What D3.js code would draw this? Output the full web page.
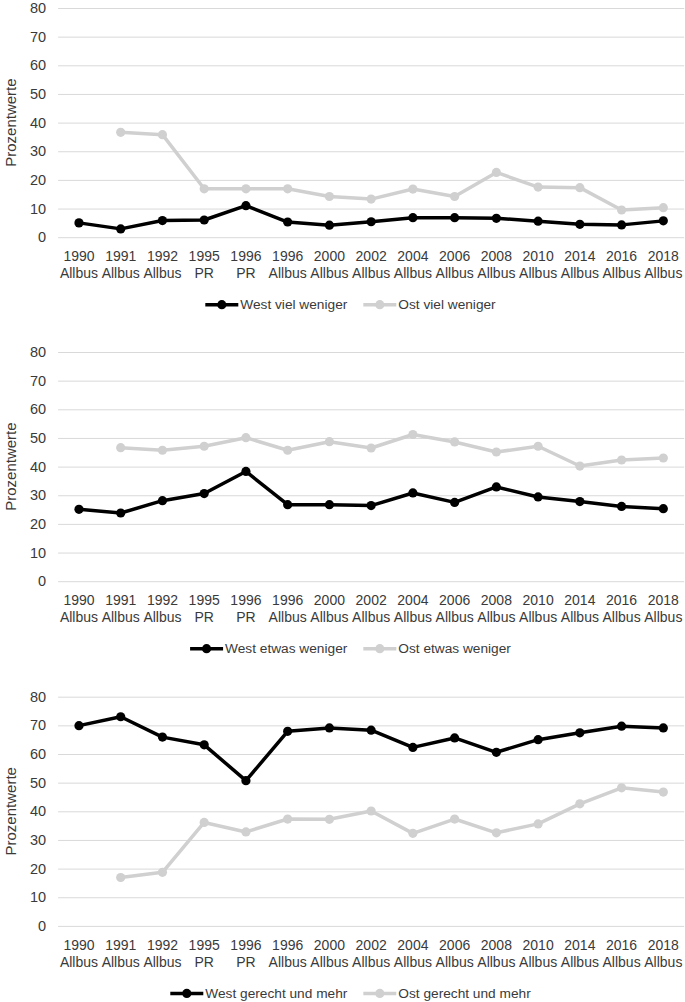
<!DOCTYPE html>
<html>
<head>
<meta charset="utf-8">
<script src="https://cdn.jsdelivr.net/npm/d3@7"></script>
<style>
  html, body { margin: 0; padding: 0; background: #fff; }
  svg { display: block; }
  text { font-family: "Liberation Sans", Arial, sans-serif; fill: #3a3a3a; }
</style>
</head>
<body>
<svg id="chart" width="685" height="1002"></svg>
<script>
// ---- data ----
const years   = ["1990","1991","1992","1995","1996","1996","2000","2002","2004","2006","2008","2010","2014","2016","2018"];
const sources = ["Allbus","Allbus","Allbus","PR","PR","Allbus","Allbus","Allbus","Allbus","Allbus","Allbus","Allbus","Allbus","Allbus","Allbus"];
const yTicks  = [0,10,20,30,40,50,60,70,80];

const westVielWeniger   = [5.0, 2.9, 5.8, 6.0, 11.0, 5.3, 4.2, 5.4, 6.8, 6.8, 6.6, 5.6, 4.5, 4.3, 5.7];
const ostVielWeniger    = [null, 36.6, 35.8, 16.9, 16.9, 16.9, 14.2, 13.3, 16.8, 14.2, 22.6, 17.5, 17.3, 9.5, 10.3];
const westEtwasWeniger  = [25.1, 23.8, 28.1, 30.6, 38.3, 26.7, 26.7, 26.4, 30.8, 27.5, 32.9, 29.4, 27.8, 26.1, 25.3];
const ostEtwasWeniger   = [null, 46.6, 45.7, 47.1, 50.1, 45.7, 48.7, 46.5, 51.2, 48.6, 45.1, 47.1, 40.2, 42.3, 43.0];
const westGerecht       = [69.9, 73.0, 65.9, 63.2, 50.7, 67.9, 69.1, 68.3, 62.3, 65.6, 60.6, 65.0, 67.4, 69.7, 69.1];
const ostGerecht        = [null, 16.9, 18.7, 36.1, 32.8, 37.3, 37.2, 40.1, 32.3, 37.3, 32.5, 35.6, 42.6, 48.2, 46.7];

const panels = [
  { west: westVielWeniger,  ost: ostVielWeniger,  westLabel: "West viel weniger",     ostLabel: "Ost viel weniger" },
  { west: westEtwasWeniger, ost: ostEtwasWeniger, westLabel: "West etwas weniger",    ostLabel: "Ost etwas weniger" },
  { west: westGerecht,      ost: ostGerecht,      westLabel: "West gerecht und mehr", ostLabel: "Ost gerecht und mehr" }
];

// ---- layout ----
const svg = d3.select("#chart");
const plotLeft = 58.1, plotRight = 684.2;
const panelTops = [8, 352, 696.7];
const plotH = 229.2;
const WEST_COLOR = "#000000", OST_COLOR = "#d0d0d0", GRID = "#d9d9d9";
const FS_X = 14, FS_Y = 14.5, FS_TITLE = 15, FS_LEG = 13.7;
const legendCenter = 350.5;

const x = d3.scaleBand().domain(d3.range(years.length)).range([plotLeft, plotRight]).padding(0);
const cx = i => x(i) + x.bandwidth() / 2;

panels.forEach((p, pi) => {
  const top = panelTops[pi];
  const y = d3.scaleLinear().domain([0, 80]).range([top + plotH, top]);
  const g = svg.append("g");

  // gridlines + y labels
  const yAxis = d3.axisLeft(y).tickValues(yTicks).tickSize(-(plotRight - plotLeft)).tickPadding(12).tickFormat(d3.format("d"));
  const ya = g.append("g").attr("transform", `translate(${plotLeft},0)`).call(yAxis);
  ya.select(".domain").remove();
  ya.selectAll(".tick line").attr("stroke", GRID).attr("stroke-width", 1);
  ya.selectAll(".tick text").attr("font-size", FS_Y).attr("fill", "#3a3a3a")
    .attr("font-family", "Liberation Sans, Arial, sans-serif");

  // x labels (two lines)
  const xAxis = d3.axisBottom(x).tickSize(0).tickFormat(() => "");
  const xa = g.append("g").attr("transform", `translate(0,${top + plotH})`).call(xAxis);
  xa.select(".domain").remove();
  xa.selectAll(".tick text").remove();
  xa.selectAll(".tick").each(function(d) {
    const t = d3.select(this).append("text")
      .attr("text-anchor", "middle").attr("font-size", FS_X)
      .attr("font-family", "Liberation Sans, Arial, sans-serif").attr("fill", "#3a3a3a")
      .attr("transform", "scale(1,1.08)");
    t.append("tspan").attr("x", 0).attr("y", 24.2 / 1.08).text(years[d]);
    t.append("tspan").attr("x", 0).attr("y", 41.2 / 1.08).text(sources[d]);
  });

  // y title
  g.append("text")
    .attr("transform", `translate(15.5,${top + plotH / 2}) rotate(-90)`)
    .attr("text-anchor", "middle").attr("font-size", FS_TITLE)
    .text("Prozentwerte");

  const line = d3.line().defined(d => d != null).x((d, i) => cx(i)).y(d => y(d));

  [[p.ost, OST_COLOR], [p.west, WEST_COLOR]].forEach(([vals, col]) => {
    g.append("path").datum(vals).attr("d", line)
      .attr("fill", "none").attr("stroke", col).attr("stroke-width", 3.5)
      .attr("stroke-linejoin", "round").attr("stroke-linecap", "round");
    g.selectAll(null).data(vals.map((v, i) => ({ v, i })).filter(d => d.v != null))
      .enter().append("circle")
      .attr("cx", d => cx(d.i)).attr("cy", d => y(d.v)).attr("r", 4.6).attr("fill", col);
  });

  // legend
  const ly = top + plotH + 67.5;
  const lg = g.append("g");
  const items = [[p.westLabel, WEST_COLOR], [p.ostLabel, OST_COLOR]];
  const lineW = 33, gapText = 2, gapItem = 16;
  const tmp = items.map(([lbl]) => {
    const t = lg.append("text").attr("font-size", FS_LEG).text(lbl);
    const w = t.node().getComputedTextLength();
    t.remove();
    return w;
  });
  const total = tmp.reduce((a, w) => a + lineW + gapText + w, 0) + gapItem;
  let lx = legendCenter - total / 2;
  items.forEach(([lbl, col], k) => {
    lg.append("line").attr("x1", lx).attr("x2", lx + lineW).attr("y1", ly).attr("y2", ly)
      .attr("stroke", col).attr("stroke-width", 3.5);
    lg.append("circle").attr("cx", lx + lineW / 2).attr("cy", ly).attr("r", 4.6).attr("fill", col);
    lg.append("text").attr("x", lx + lineW + gapText).attr("y", ly).attr("dy", "0.35em")
      .attr("font-size", FS_LEG).text(lbl);
    lx += lineW + gapText + tmp[k] + gapItem;
  });
});
</script>
</body>
</html>
